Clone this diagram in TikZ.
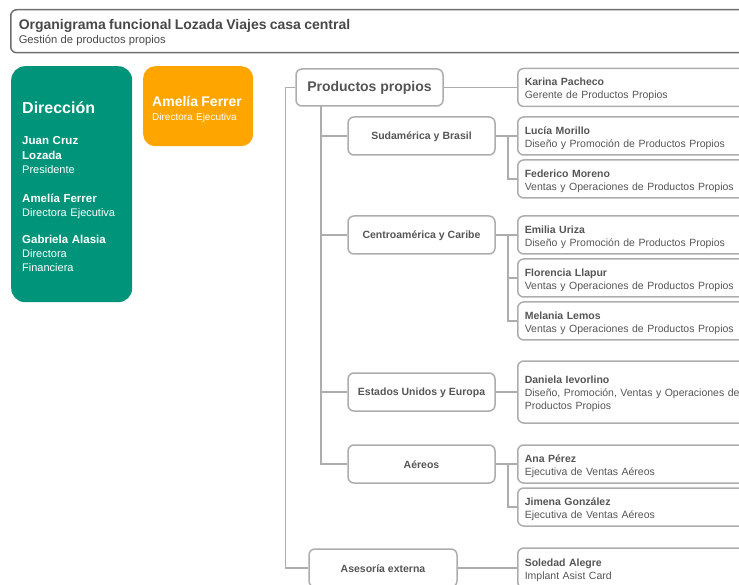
\documentclass[tikz,border=0pt]{standalone}
\usepackage{fontspec}
\setmainfont{Liberation Sans}
\usetikzlibrary{positioning}
\definecolor{dirgreen}{HTML}{00957A}
\definecolor{ejeorange}{HTML}{FFA500}
\definecolor{boxgray}{HTML}{ADADAD}
\definecolor{titlegray}{HTML}{6E6E6E}
\definecolor{textgray}{HTML}{555555}
\tikzset{
    link/.style={draw=boxgray, line width=1.5pt},
    area/.style={draw=boxgray, line width=1.5pt, rounded corners=6pt, minimum width=147pt, minimum height=38pt, text=textgray, font=\bfseries\fontsize{10.5}{12}\selectfont},
    person/.style={draw=boxgray, line width=1.5pt, rounded corners=6pt, anchor=west, minimum height=38pt, text width=230pt, inner xsep=7pt, align=left, text=textgray, font=\fontsize{10.5}{13}\selectfont}
}
\newcommand{\pname}[1]{{\rule{0pt}{11.5pt}\bfseries\fontsize{10.5}{13}\selectfont #1}}

\begin{document}
\begin{tikzpicture}[x=1pt, y=-1pt]
    \useasboundingbox (0,0) rectangle (739,585);
    \clip (0,0) rectangle (739,585);
    % Title
    \node[draw=titlegray, line width=1.5pt, rounded corners=6pt, anchor=north west, minimum height=43pt, text width=760pt, inner xsep=8pt, align=left, text=textgray!85!black] (title) at (10,9)
        {{\rule{0pt}{12pt}\bfseries\fontsize{14}{16}\selectfont Organigrama funcional Lozada Viajes casa central}\\[2pt]{\fontsize{11.2}{13}\selectfont Gestión de productos propios}};
    % Direccion
    \node[fill=dirgreen, rounded corners=14pt, anchor=north west, minimum width=121pt, minimum height=236pt, text width=99pt, inner xsep=11pt, align=left, text=white, font=\fontsize{11}{14}\selectfont] (dir) at (11,66)
        {{\rule{0pt}{17pt}\bfseries\fontsize{16}{19}\selectfont Dirección}\\[16pt]
         {\bfseries\fontsize{11.5}{15}\selectfont Juan Cruz\\[1pt]Lozada}\\Presidente\\[15pt]
         {\bfseries\fontsize{11.5}{15}\selectfont Amelía Ferrer}\\Directora Ejecutiva\\[13pt]
         {\bfseries\fontsize{11.5}{15}\selectfont Gabriela Alasia}\\Directora\\Financiera};
    \node[fill=ejeorange, rounded corners=12pt, anchor=north west, minimum width=110pt, minimum height=80pt, text width=92pt, inner xsep=9pt, align=left, text=white, font=\fontsize{10}{14}\selectfont] (ejec) at (143,66)
        {{\rule{0pt}{16pt}\bfseries\fontsize{14}{16}\selectfont Amelía Ferrer}\\Directora Ejecutiva};
    % Areas
    \node[area, minimum height=37pt, font=\bfseries\fontsize{14}{16}\selectfont] (prod) at (369.5,87.5) {Productos propios};
    \node[area] (sud) at (421.5,136) {\rule{0pt}{9.5pt}Sudamérica y Brasil};
    \node[area] (centro) at (421.5,235) {\rule{0pt}{9.5pt}Centroamérica y Caribe};
    \node[area] (eeuu) at (421.5,392) {\rule{0pt}{9.5pt}Estados Unidos y Europa};
    \node[area] (aereos) at (421.5,464) {\rule{0pt}{9.5pt}Aéreos};
    \node[area, minimum width=148pt] (ases) at (383,568) {\rule{0pt}{9.5pt}Asesoría externa};
    % People
    \node[person] (karina) at (517,87.5) {\pname{Karina Pacheco}\\Gerente de Productos Propios};
    \node[person] (lucia) at (517,136) {\pname{Lucía Morillo}\\Diseño y Promoción de Productos Propios};
    \node[person] (federico) at (517,179) {\pname{Federico Moreno}\\Ventas y Operaciones de Productos Propios};
    \node[person] (emilia) at (517,235) {\pname{Emilia Uriza}\\Diseño y Promoción de Productos Propios};
    \node[person] (florencia) at (517,278) {\pname{Florencia Llapur}\\Ventas y Operaciones de Productos Propios};
    \node[person] (melania) at (517,321) {\pname{Melania Lemos}\\Ventas y Operaciones de Productos Propios};
    \node[person, minimum height=62pt] (daniela) at (517,392) {\pname{Daniela Ievorlino}\\Diseño, Promoción, Ventas y Operaciones de\\Productos Propios};
    \node[person] (ana) at (517,464) {\pname{Ana Pérez}\\Ejecutiva de Ventas Aéreos};
    \node[person] (jimena) at (517,507) {\pname{Jimena González}\\Ejecutiva de Ventas Aéreos};
    \node[person, minimum height=40pt] (soledad) at (517,568) {\pname{Soledad Alegre}\\Implant Asist Card};
    % Connectors
    \coordinate (pspine) at (321,106);
    \draw[link] (prod.west) -- ++(-10,0) |- (ases.west);
    \foreach \a in {sud,centro,eeuu,aereos}
        \draw[link] (pspine) |- (\a.west);
    \draw[link] (prod.east) -- (karina.west);
    \draw[link] (ases.east) -- (soledad.west);
    \draw[link] (eeuu.east) -- (daniela.west);
    \draw[link] (sud.east) -- ++(12,0) |- (lucia.west);
    \draw[link] (sud.east) ++(12,0) |- (federico.west);
    \draw[link] (centro.east) -- ++(12,0) |- (emilia.west);
    \draw[link] (centro.east) ++(12,0) |- (florencia.west);
    \draw[link] (centro.east) ++(12,0) |- (melania.west);
    \draw[link] (aereos.east) -- ++(12,0) |- (ana.west);
    \draw[link] (aereos.east) ++(12,0) |- (jimena.west);
\end{tikzpicture}
\end{document}
